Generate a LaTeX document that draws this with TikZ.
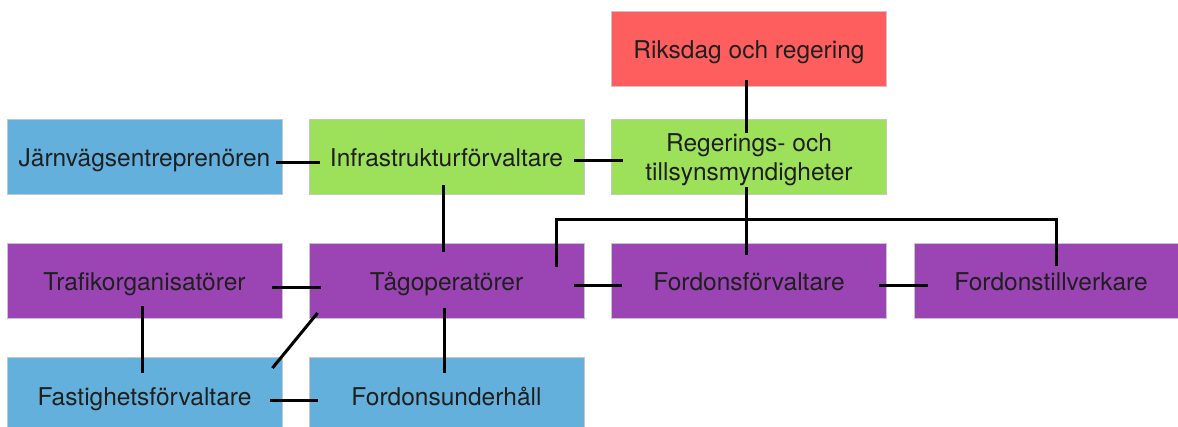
\documentclass[tikz,border=0pt]{standalone}
\usepackage{fontspec}
\setmainfont{TeX Gyre Heros}
\definecolor{cred}{RGB}{255,94,94}
\definecolor{cgreen}{RGB}{157,224,90}
\definecolor{cblue}{RGB}{99,176,220}
\definecolor{cpurple}{RGB}{155,68,180}
\begin{document}
\begin{tikzpicture}[x=1pt,y=1pt,
  box/.style={draw=gray!45, line width=0.8pt, minimum width=275pt, minimum height=75pt,
    inner sep=0pt, align=center, text height=23pt, text depth=3pt,
    font=\fontsize{24.5}{28.5}\selectfont, text=black!88},
  link/.style={line width=3pt, black}]
\useasboundingbox (0,0) rectangle (1178,426);
\node[box, fill=cred]    (riks)  at (749,377)   {Riksdag och regering};
\node[box, fill=cblue]   (jarn)  at (144.5,269.5) {Järnvägsentreprenören};
\node[box, fill=cgreen]  (infra) at (446.5,269.5) {Infrastrukturförvaltare};
\node[box, fill=cgreen, text height=51pt] (reg) at (749,269.5) {Regerings- och\\tillsynsmyndigheter};
\node[box, fill=cpurple] (traf)  at (144.5,145) {Trafikorganisatörer};
\node[box, fill=cpurple] (tag)   at (446.5,145) {Tågoperatörer};
\node[box, fill=cpurple] (forv)  at (749,145)   {Fordonsförvaltare};
\node[box, fill=cpurple, minimum width=274pt] (tillv) at (1051,145) {Fordonstillverkare};
\node[box, fill=cblue]   (fast)  at (144.5,31)  {Fastighetsförvaltare};
\node[box, fill=cblue]   (underh) at (446.5,31) {Fordonsunderhåll};

\coordinate (bar) at ([yshift=-25pt]reg.south);
\draw[link] ([xshift=-3pt,yshift=7pt]riks.south) -- ([xshift=-3pt,yshift=-14pt]reg.north);
\draw[link] ([xshift=-3pt,yshift=7pt]reg.south) -- ([xshift=-3pt,yshift=-12pt]forv.north);
\draw[link] ([xshift=110pt,yshift=-24pt]tag.north) |- (bar) -| ([xshift=5pt,yshift=-23pt]tillv.north);
\draw[link] ([xshift=-6pt,yshift=-6pt]jarn.east) -- ([xshift=11pt,yshift=-6pt]infra.west);
\draw[link] ([xshift=-10pt,yshift=-4pt]infra.east) -- ([xshift=12pt,yshift=-4pt]reg.west);
\draw[link] ([xshift=-3pt,yshift=9pt]infra.south) -- ([xshift=-3pt,yshift=-9pt]tag.north);
\draw[link] ([xshift=-10pt,yshift=-7pt]traf.east) -- ([xshift=12pt,yshift=-7pt]tag.west);
\draw[link] ([xshift=-10pt,yshift=-5pt]tag.east) -- ([xshift=11pt,yshift=-5pt]forv.west);
\draw[link] ([xshift=-8pt,yshift=-5pt]forv.east) -- ([xshift=14pt,yshift=-5pt]tillv.west);
\draw[link] ([xshift=-2.5pt,yshift=13pt]traf.south) -- ([xshift=-2.5pt,yshift=-16pt]fast.north);
\draw[link] ([xshift=9pt,yshift=6pt]tag.south west) -- ([xshift=-10pt,yshift=-11pt]fast.north east);
\draw[link] ([xshift=-2.5pt,yshift=11pt]tag.south) -- ([xshift=-2.5pt,yshift=-16pt]underh.north);
\draw[link] ([xshift=-12pt,yshift=-5pt]fast.east) -- ([xshift=9pt,yshift=-5pt]underh.west);
\end{tikzpicture}
\end{document}
